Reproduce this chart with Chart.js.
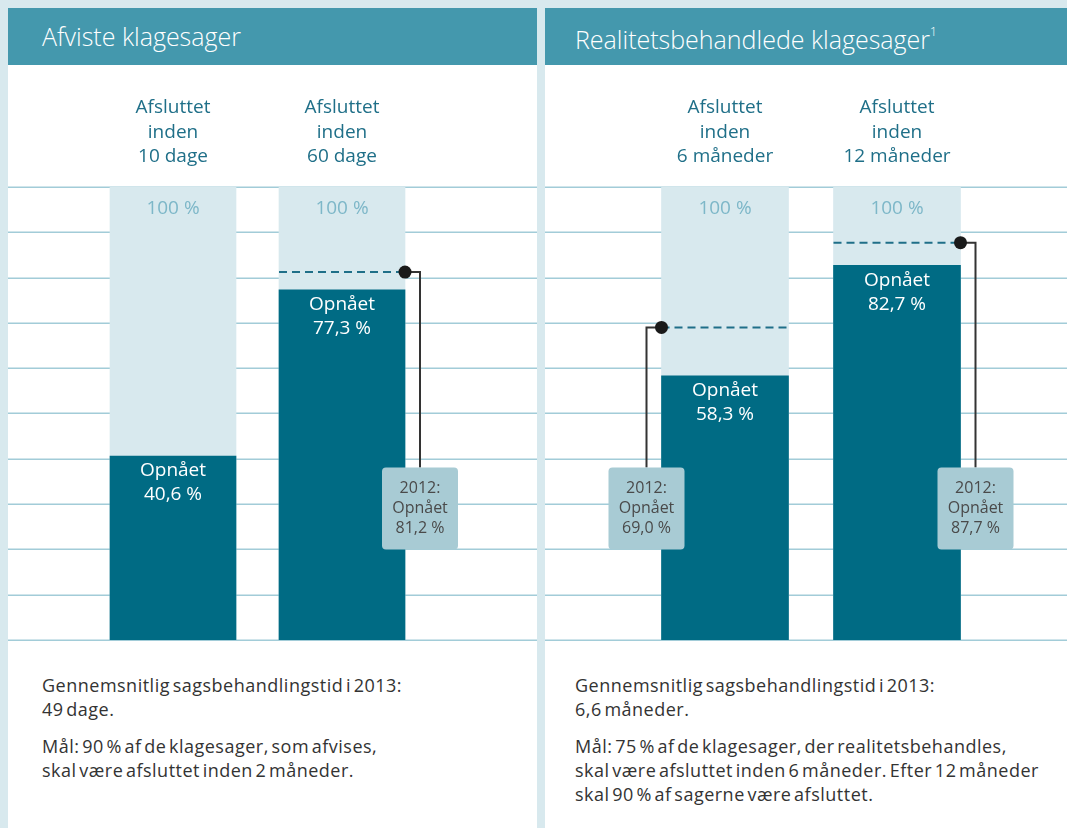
<!DOCTYPE html>
<html>
<head>
<meta charset="utf-8">
<script src="https://cdn.jsdelivr.net/npm/chart.js@4.4.0/dist/chart.umd.min.js"></script>
<style>
  body { margin: 0; width: 1067px; height: 828px; overflow: hidden; background: #d8e9ee; position: relative; font-family: "Open Sans", sans-serif; }
  .panel { position: absolute; top: 8px; bottom: 0; background: #fff; }
  .head { height: 57px; line-height: 56px; background: #4498ad; color: #fff; font-size: 25px; font-weight: 300; }
  .head sup { font-size: 12px; position: relative; top: -4px; }
  .panel canvas { position: absolute; left: 0; top: 57px; }
  .note { position: absolute; top: 665px; font-size: 18px; line-height: 24px; color: #333; letter-spacing: 0.5px; word-spacing: -2.5px; }
  .note p { margin: 0 0 13px 0; }
</style>
</head>
<body>
<div class="panel" style="left:8px;width:529px">
  <div class="head" style="padding-left:34px">Afviste klagesager</div>
  <canvas id="left" width="529" height="585"></canvas>
  <div class="note" style="left:34px">
    <p>Gennemsnitlig sagsbehandlingstid i 2013:<br>49 dage.</p>
    <p>Mål: 90 % af de klagesager, som afvises,<br>skal være afsluttet inden 2 måneder.</p>
  </div>
</div>
<div class="panel" style="left:545px;width:522px">
  <div class="head" style="padding-left:30px">Realitetsbehandlede klagesager<sup>1</sup></div>
  <canvas id="right" width="522" height="585"></canvas>
  <div class="note" style="left:30px">
    <p>Gennemsnitlig sagsbehandlingstid i 2013:<br>6,6 måneder.</p>
    <p>Mål: 75 % af de klagesager, der realitetsbehandles,<br>skal være afsluttet inden 6 måneder. Efter 12 måneder<br>skal 90 % af sagerne være afsluttet.</p>
  </div>
</div>
<script>
// data
const rejectedLabels = [["Afsluttet", "inden", "10 dage"], ["Afsluttet", "inden", "60 dage"]];
const rejectedAchieved = [40.6, 77.3];
const rejectedPrev2012 = [null, 81.2];

const reviewedLabels = [["Afsluttet", "inden", "6 måneder"], ["Afsluttet", "inden", "12 måneder"]];
const reviewedAchieved = [58.3, 82.7];
const reviewedPrev2012 = [69.0, 87.7];

const fullShare = [100, 100];

const fmt = (v) => v.toFixed(1).replace(".", ",") + " %";

const decor = {
  id: "decor",
  beforeDatasetsDraw(chart) {
    const ctx = chart.ctx;
    const y = chart.scales.y;
    ctx.save();
    ctx.strokeStyle = "#a2ccd8";
    ctx.lineWidth = 1.5;
    y.ticks.forEach((t) => {
      const py = Math.round(y.getPixelForValue(t.value)) + 0.25;
      ctx.beginPath();
      ctx.moveTo(0, py);
      ctx.lineTo(chart.width, py);
      ctx.stroke();
    });
    ctx.restore();
  },
  afterDatasetsDraw(chart, args, opts) {
    const ctx = chart.ctx;
    const y = chart.scales.y;
    const dark = chart.getDatasetMeta(0).data;
    const light = chart.getDatasetMeta(1).data;
    const achieved = chart.data.datasets[0].data;
    ctx.save();
    ctx.textAlign = "center";
    ctx.textBaseline = "middle";
    ctx.font = '19px "Open Sans"';
    light.forEach((bar) => {
      ctx.fillStyle = "#7db7c8";
      ctx.fillText("100 %", bar.x, bar.y + 22);
    });
    dark.forEach((bar, i) => {
      ctx.fillStyle = "#ffffff";
      ctx.fillText("Opnået", bar.x, bar.y + 15);
      ctx.fillText(fmt(achieved[i]), bar.x, bar.y + 39);
    });

    opts.prev.forEach((v, i) => {
      if (v == null) return;
      const bar = dark[i];
      const half = bar.width / 2;
      const py = y.getPixelForValue(v);
      const side = opts.side[i] === "left" ? -1 : 1;
      const edge = bar.x + side * half;
      const cx = edge + side * 15;
      const boxBottom = y.getPixelForValue(20);
      const boxTop = boxBottom - 82;

      // dashed 2012 level
      ctx.setLineDash([8, 5]);
      ctx.strokeStyle = "#1f6f88";
      ctx.lineWidth = 2;
      ctx.beginPath();
      ctx.moveTo(bar.x - half, py);
      ctx.lineTo(bar.x + half, py);
      ctx.stroke();
      ctx.setLineDash([]);

      // connector
      ctx.strokeStyle = "#333";
      ctx.lineWidth = 2;
      ctx.beginPath();
      ctx.moveTo(edge, py);
      ctx.lineTo(cx, py);
      ctx.lineTo(cx, boxTop);
      ctx.stroke();

      ctx.fillStyle = "#1a1a1a";
      ctx.beginPath();
      ctx.arc(edge, py, 6.5, 0, Math.PI * 2);
      ctx.fill();

      // box
      ctx.fillStyle = "#a8cbd4";
      ctx.beginPath();
      ctx.roundRect(cx - 38, boxTop, 76, 82, 4);
      ctx.fill();
      ctx.fillStyle = "#4a4a4a";
      ctx.font = '16px "Open Sans"';
      ctx.fillText("2012:", cx, boxTop + 21);
      ctx.fillText("Opnået", cx, boxTop + 41);
      ctx.fillText(fmt(v), cx, boxTop + 61);
      ctx.font = '19px "Open Sans"';
    });
    ctx.restore();
  },
};

function makeChart(id, labels, achieved, prev, side, padL, padR, thick) {
  return new Chart(document.getElementById(id), {
    type: "bar",
    data: {
      labels: labels,
      datasets: [
        { data: achieved, backgroundColor: "#006b84", barThickness: thick, grouped: false },
        { data: fullShare, backgroundColor: "#d8e9ee", barThickness: thick, grouped: false },
      ],
    },
    options: {
      responsive: false,
      animation: false,
      devicePixelRatio: 1,
      layout: { padding: { top: 12.8, bottom: 10, left: padL, right: padR } },
      plugins: {
        legend: { display: false },
        tooltip: { enabled: false },
        decor: { prev: prev, side: side },
      },
      scales: {
        x: {
          position: "top",
          grid: { display: false, drawTicks: false },
          border: { display: false },
          ticks: {
            color: "#1f6f88",
            padding: 17.8,
            font: { family: "Open Sans", size: 19, lineHeight: 1.29 },
          },
        },
        y: {
          display: false,
          min: 0,
          max: 100,
          ticks: { stepSize: 10 },
        },
      },
    },
    plugins: [decor],
  });
}

makeChart("left", rejectedLabels, rejectedAchieved, rejectedPrev2012, ["right", "right"], 80.5, 110.5, 126);
makeChart("right", reviewedLabels, reviewedAchieved, reviewedPrev2012, ["left", "right"], 94, 84, 127);
</script>
</body>
</html>
